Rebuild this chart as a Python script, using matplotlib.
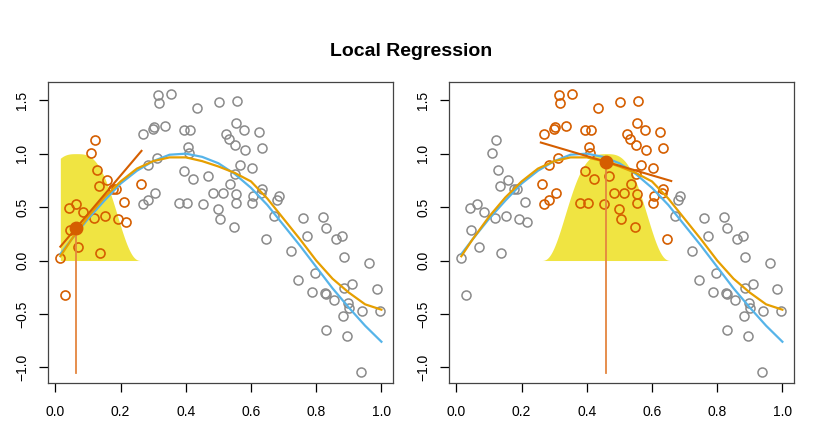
import numpy as np
import matplotlib
matplotlib.use('Agg')
import matplotlib.pyplot as plt

plt.rcParams['font.family'] = ['Liberation Sans', 'DejaVu Sans']

# observed points
x_pts = [0.015, 0.030, 0.070, 0.046, 0.042, 0.062, 0.086, 0.118, 0.152, 0.136,
         0.121, 0.110, 0.129, 0.134, 0.157, 0.177, 0.187, 0.211, 0.193, 0.216,
         0.262, 0.269, 0.285, 0.306, 0.269, 0.298, 0.302, 0.335, 0.284, 0.312,
         0.314, 0.319, 0.354, 0.435, 0.394, 0.412, 0.408, 0.409, 0.394, 0.423,
         0.468, 0.379, 0.403, 0.453, 0.482, 0.514, 0.498, 0.506, 0.547, 0.503,
         0.556, 0.553, 0.579, 0.522, 0.533, 0.551, 0.581, 0.625, 0.635, 0.567,
         0.604, 0.551, 0.535, 0.555, 0.555, 0.602, 0.606, 0.635, 0.632, 0.647,
         0.671, 0.680, 0.686, 0.724, 0.744, 0.759, 0.772, 0.797, 0.787, 0.822,
         0.831, 0.826, 0.830, 0.831, 0.854, 0.860, 0.878, 0.884, 0.884, 0.910,
         0.898, 0.902, 0.882, 0.893, 0.940, 0.937, 0.962, 0.985, 0.997]
y_pts = [0.02, -0.32, 0.13, 0.29, 0.49, 0.53, 0.45, 0.40, 0.42, 0.07,
         1.13, 1.01, 0.85, 0.70, 0.75, 0.67, 0.67, 0.55, 0.39, 0.36,
         0.72, 0.53, 0.57, 0.63, 1.18, 1.23, 1.25, 1.26, 0.89, 0.96,
         1.55, 1.47, 1.56, 1.43, 1.22, 1.22, 1.06, 1.01, 0.84, 0.76,
         0.79, 0.54, 0.54, 0.53, 0.63, 0.63, 0.48, 0.39, 0.31, 1.48,
         1.49, 1.29, 1.22, 1.18, 1.14, 1.08, 1.03, 1.20, 1.05, 0.89,
         0.87, 0.81, 0.72, 0.62, 0.54, 0.54, 0.60, 0.67, 0.63, 0.20,
         0.42, 0.57, 0.60, 0.09, -0.18, 0.40, 0.23, -0.12, -0.29, 0.41,
         0.30, -0.30, -0.31, -0.65, -0.37, 0.20, 0.23, 0.03, -0.26, -0.22,
         -0.40, -0.44, -0.52, -0.71, -0.47, -1.04, -0.02, -0.27, -0.47]

# true function (blue) and loess fit (orange)
curve_x = [0.015, 0.05, 0.10, 0.15, 0.20, 0.25, 0.30, 0.35, 0.40, 0.45, 0.50,
           0.55, 0.60, 0.65, 0.70, 0.75, 0.80, 0.85, 0.90, 0.95, 1.00]
true_y = [0.06, 0.20, 0.39, 0.56, 0.72, 0.84, 0.93, 0.99, 1.00, 0.97, 0.91,
          0.81, 0.68, 0.52, 0.33, 0.14, -0.06, -0.26, -0.44, -0.61, -0.76]
loess_y = [0.04, 0.20, 0.41, 0.59, 0.74, 0.86, 0.93, 0.965, 0.965, 0.93, 0.88,
           0.82, 0.74, 0.58, 0.39, 0.20, 0.00, -0.17, -0.30, -0.41, -0.46]

# target points of the two panels: location, fitted value, local slope
x0_vals = [0.064, 0.459]
y0_vals = [0.306, 0.924]
slopes = [3.6, -0.90]
span = 0.2

gray = '#8A8A8A'
verm = '#D55E00'

fig = plt.figure(figsize=(8.17, 4.29), dpi=100)
fig.text(0.503, 0.879, 'Local Regression', ha='center', va='center',
         fontsize=14, fontweight='bold')

xp = np.array(x_pts)
yp = np.array(y_pts)
lefts = [0.0588, 0.5496]

for i in range(2):
    ax = fig.add_axes([lefts[i], 0.107, 0.422, 0.702])
    x0, y0, b = x0_vals[i], y0_vals[i], slopes[i]
    lo = max(x0 - span, xp.min())
    hi = x0 + span

    # tricube kernel weights
    kx = np.linspace(lo, hi, 200)
    kw = np.clip(1 - np.abs((kx - x0) / span) ** 3, 0, None) ** 3
    ax.fill_between(kx, 0, kw, color='#F0E442', lw=0, zorder=1)

    near = np.abs(xp - x0) <= span
    ax.plot(xp[~near], yp[~near], 'o', mfc='none', mec=gray, ms=6.5, mew=1.1, zorder=2)
    ax.plot(xp[near], yp[near], 'o', mfc='none', mec=verm, ms=6.5, mew=1.2, zorder=2)

    ax.plot(curve_x, true_y, color='#56B4E9', lw=1.6, zorder=3)
    ax.plot(curve_x, loess_y, color='#E69F00', lw=1.6, zorder=3)

    lx = np.array([lo, hi])
    ax.plot(lx, y0 + b * (lx - x0), color=verm, lw=1.5, zorder=4)
    ax.plot([x0, x0], [y0, -1.05], color='#E4863F', lw=1.3, zorder=4)
    ax.plot(x0, y0, 'o', color=verm, ms=9, zorder=5)

    ax.set_xlim(-0.0227, 1.035)
    ax.set_ylim(-1.147, 1.671)
    ax.set_xticks([0.0, 0.2, 0.4, 0.6, 0.8, 1.0])
    ax.set_yticks([-1.0, -0.5, 0.0, 0.5, 1.0, 1.5])
    ax.set_xticklabels(['0.0', '0.2', '0.4', '0.6', '0.8', '1.0'])
    ax.set_yticklabels(['\u22121.0', '\u22120.5', '0.0', '0.5', '1.0', '1.5'],
                       rotation=90, va='center')
    ax.tick_params(direction='out', length=6.5, width=0.9, labelsize=10)
    ax.tick_params(axis='x', pad=9)
    ax.tick_params(axis='y', pad=7)
    for s in ax.spines.values():
        s.set_color('#444444')
        s.set_linewidth(0.9)

fig.savefig('out.png', dpi=100)
